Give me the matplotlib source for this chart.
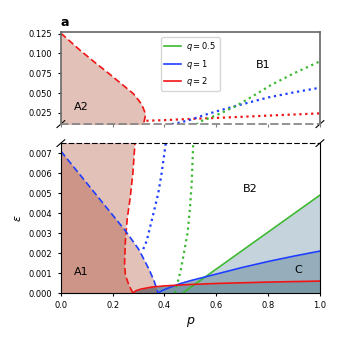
import numpy as np
import matplotlib
matplotlib.use('Agg')
from matplotlib import pyplot as plt
from matplotlib.ticker import MultipleLocator

# curva A (q=2, discontinua), recorre ambos ejes
red_dash_p = [0.0, 0.073, 0.13, 0.189, 0.24, 0.28, 0.305, 0.317, 0.324, 0.326, 0.322, 0.317,
              0.286, 0.278, 0.268, 0.256, 0.249, 0.246, 0.249, 0.26, 0.27, 0.279]
red_dash_e = [0.1255, 0.1043, 0.089, 0.0737, 0.060, 0.0492, 0.039, 0.032, 0.026, 0.0216, 0.015, 0.011,
              0.0075, 0.006, 0.0048, 0.0037, 0.0026, 0.0015, 0.0009, 0.0005, 0.0002, 0.0]
# curva A (q=1)
blue_dash_p = [0.0, 0.05, 0.1, 0.15, 0.2, 0.25, 0.3, 0.34, 0.36, 0.375]
blue_dash_e = [0.0071, 0.0063, 0.0055, 0.0047, 0.0039, 0.0031, 0.0022, 0.0012, 0.0006, 0.0]

# curvas punteadas (B)
red_dot_p = [0.33, 0.4, 0.5, 0.6, 0.7, 0.8, 0.9, 1.0]
red_dot_e = [0.0152, 0.016, 0.0175, 0.0188, 0.0202, 0.0217, 0.0231, 0.0245]
blue_dot_p = [0.318, 0.331, 0.354, 0.376, 0.389, 0.405, 0.43, 0.46, 0.5, 0.55, 0.6, 0.7, 0.8, 0.9, 1.0]
blue_dot_e = [0.0022, 0.0026, 0.0038, 0.005, 0.006, 0.0075, 0.0111, 0.013, 0.0165, 0.022, 0.027,
              0.036, 0.0445, 0.051, 0.0568]
green_dot_p = [0.44, 0.45, 0.462, 0.475, 0.489, 0.498, 0.505, 0.511, 0.54, 0.58, 0.62, 0.68, 0.75,
               0.81, 0.9, 1.0]
green_dot_e = [0.0, 0.0005, 0.0011, 0.002, 0.003, 0.0042, 0.0055, 0.0075, 0.0145, 0.0195, 0.025,
               0.0345, 0.048, 0.06, 0.075, 0.09]

# curvas solidas (C)
green_sol_p = [0.47, 1.0]
green_sol_e = [0.0, 0.0049]
blue_sol_p = [0.375, 0.39, 0.42, 0.46, 0.5, 0.6, 0.7, 0.8, 0.9, 1.0]
blue_sol_e = [0.0, 0.00012, 0.00028, 0.00047, 0.00062, 0.00095, 0.00128, 0.00158, 0.00185, 0.0021]
red_sol_p = [0.278, 0.29, 0.31, 0.35, 0.4, 0.5, 0.6, 0.8, 1.0]
red_sol_e = [0.0, 0.00012, 0.0002, 0.0003, 0.00036, 0.00043, 0.00048, 0.00055, 0.0006]

labels = ['$q=0.5$', '$q=1$', '$q=2$']
cg, cb, cr = '#3cb832', '#1f3fff', '#f01414'
cA = '#9d2a0e'

fig = plt.figure(figsize=(3.4, 3.4), dpi=100)
ax1 = fig.add_axes([0.179, 0.635, 0.762, 0.271])
ax2 = fig.add_axes([0.179, 0.138, 0.762, 0.441])

for ax in (ax1, ax2):
    ax.fill_betweenx(red_dash_e, 0, red_dash_p, color=cA, alpha=0.29, lw=0)
    ax.plot(red_dash_p, red_dash_e, color=cr, ls=(0, (4, 2)), lw=1.2)
    ax.plot(red_dot_p, red_dot_e, color=cr, ls=':', lw=1.6)
    ax.plot(blue_dot_p, blue_dot_e, color=cb, ls=':', lw=1.6)
    ax.plot(green_dot_p, green_dot_e, color=cg, ls=':', lw=1.6)
    ax.set_xlim(0, 1)
    ax.tick_params(labelsize=6, length=2.5, width=0.8)
    ax.xaxis.set_major_locator(MultipleLocator(0.2))

# regiones C
ax2.fill_between(green_sol_p, 0, green_sol_e, color='#c4d3dc', lw=0)
ax2.fill_between(blue_sol_p, 0, blue_sol_e, color='#96aebb', lw=0)
ax2.fill_between(red_sol_p, 0, red_sol_e, color='#7b98a7', lw=0)
ax2.fill_between(blue_dash_p, 0, blue_dash_e, color=cA, alpha=0.29, lw=0)
ax2.plot(blue_dash_p, blue_dash_e, color=cb, ls=(0, (4, 2)), lw=1.2)
ax2.plot(green_sol_p, green_sol_e, color=cg, lw=1.2)
ax2.plot(blue_sol_p, blue_sol_e, color=cb, lw=1.2)
ax2.plot(red_sol_p, red_sol_e, color=cr, lw=1.2)

ax1.set_ylim(0.011, 0.127)
ax2.set_ylim(0, 0.0075)
ax1.yaxis.set_major_locator(MultipleLocator(0.025))
ax2.yaxis.set_major_locator(MultipleLocator(0.001))
ax1.set_xticklabels([])

# ejes cortados
for s in ['left', 'top', 'right']:
    ax1.spines[s].set_color('0.4')
    ax1.spines[s].set_linewidth(1.2)
ax1.spines['bottom'].set_color('0.5')
ax1.spines['bottom'].set_linestyle((0, (4, 3)))
ax1.spines['bottom'].set_linewidth(1.2)
ax1.tick_params(axis='x', color='0.5')
ax2.spines['top'].set_linestyle((0, (4, 3)))
ax2.spines['top'].set_linewidth(0.8)

d = 0.015
kw = dict(color='k', clip_on=False, lw=0.8)
ax1.plot((-d, d), (-d * 2.5, d * 2.5), transform=ax1.transAxes, **kw)
ax1.plot((1 - d, 1 + d), (-d * 2.5, d * 2.5), transform=ax1.transAxes, **kw)
ax2.plot((-d, d), (1 - d * 1.5, 1 + d * 1.5), transform=ax2.transAxes, **kw)
ax2.plot((1 - d, 1 + d), (1 - d * 1.5, 1 + d * 1.5), transform=ax2.transAxes, **kw)

# leyenda
for c, lab in zip([cg, cb, cr], labels):
    ax1.plot([], [], color=c, lw=1.2, label=lab)
ax1.legend(loc='upper center', fontsize=6, handlelength=2.0, borderpad=0.4,
           labelspacing=0.5, handletextpad=0.6, bbox_to_anchor=(0.5, 0.99))

ax1.text(0.05, 0.033, 'A2', fontsize=8, va='center')
ax1.text(0.78, 0.085, 'B1', fontsize=8, va='center', ha='center')
ax2.text(0.05, 0.00105, 'A1', fontsize=8, va='center')
ax2.text(0.73, 0.0052, 'B2', fontsize=8, va='center', ha='center')
ax2.text(0.916, 0.00117, 'C', fontsize=8, va='center', ha='center')

ax1.set_title('a', loc='left', fontweight='bold', fontsize=9, pad=4)
ax2.set_xlabel('$p$', fontsize=9, labelpad=3)
ax2.set_ylabel(r'$\varepsilon$', fontsize=8, labelpad=4)

fig.savefig('out.png', dpi=100)
